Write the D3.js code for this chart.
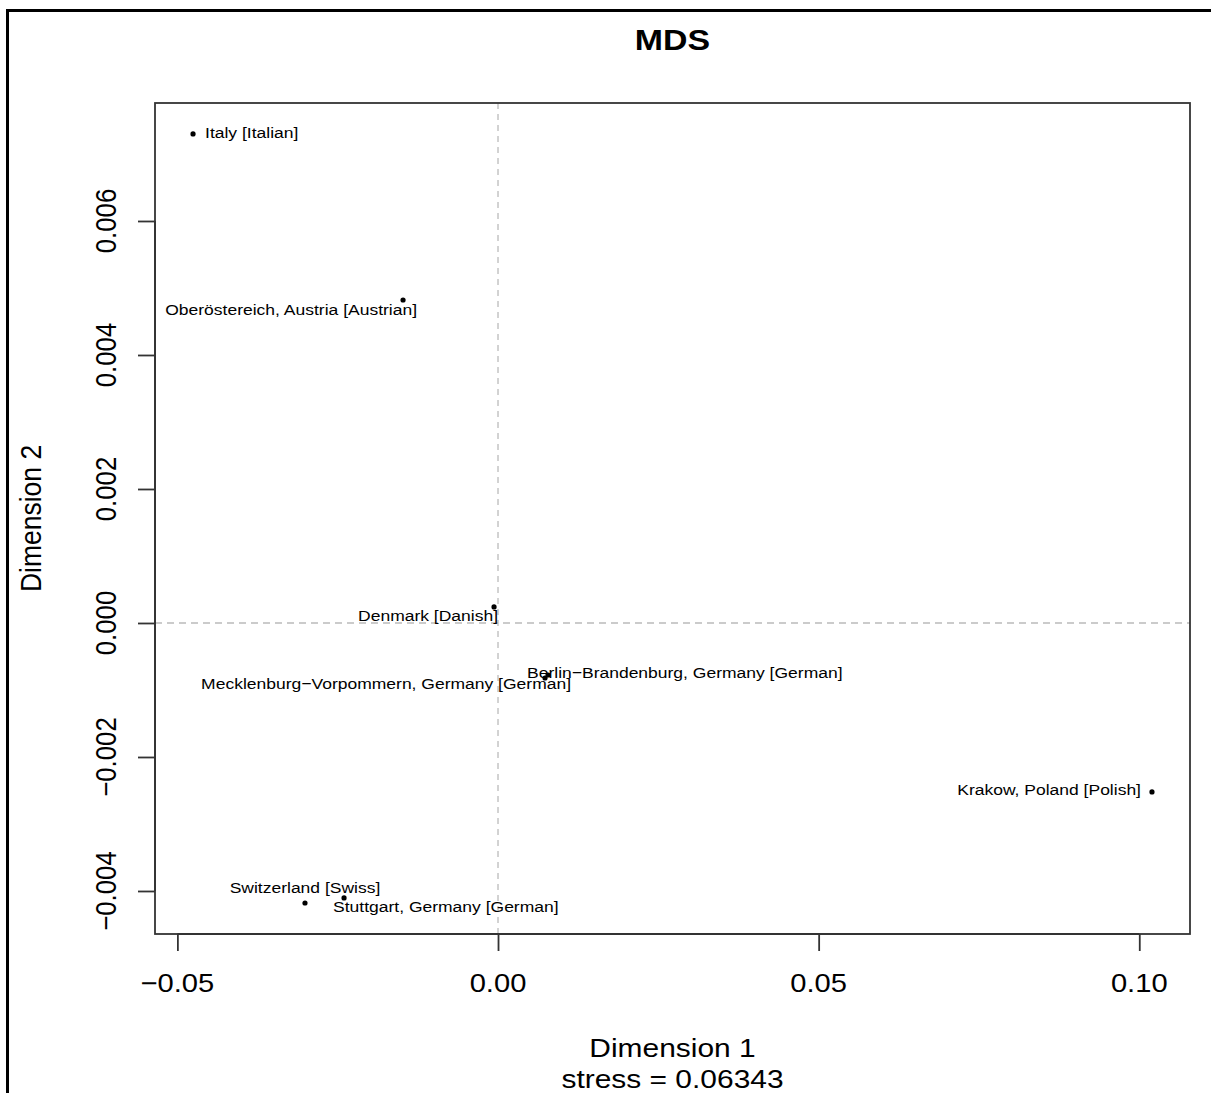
<!DOCTYPE html>
<html>
<head>
<meta charset="utf-8">
<script src="https://cdn.jsdelivr.net/npm/d3@7"></script>
<style>
  html, body { margin: 0; padding: 0; background: #fff; }
  svg { display: block; }
  text { font-family: "Liberation Sans", Arial, sans-serif; fill: #000; }
</style>
</head>
<body>
<script>
// MDS configuration: one entry per region / dialect
const regions = [
  "Italy [Italian]",
  "Oberöstereich, Austria [Austrian]",
  "Denmark [Danish]",
  "Mecklenburg\u2212Vorpommern, Germany [German]",
  "Berlin\u2212Brandenburg, Germany [German]",
  "Krakow, Poland [Polish]",
  "Switzerland [Swiss]",
  "Stuttgart, Germany [German]"
];
const dim1 = [-0.04756, -0.01481, -0.00062, 0.00733, 0.00780, 0.10198, -0.03010, -0.02401];
const dim2 = [0.007299, 0.004821, 0.000239, -0.000821, -0.000776, -0.002522, -0.004179, -0.004104];

const xTicks = [-0.05, 0.00, 0.05, 0.10];
const xTickLabels = ["\u22120.05", "0.00", "0.05", "0.10"];
const yTicks = [-0.004, -0.002, 0.000, 0.002, 0.004, 0.006];
const yTickLabels = ["\u22120.004", "\u22120.002", "0.000", "0.002", "0.004", "0.006"];

const stress = "0.06343";

// label placement relative to each point (anchor, pixel offsets)
const labelPlacement = [
  {anchor: "start",  dx: 12,  dy: -1},
  {anchor: "end",    dx: 14,  dy: 10},
  {anchor: "end",    dx: 4,   dy: 9},
  {anchor: "end",    dx: 26,  dy: 6},
  {anchor: "start",  dx: -21, dy: -2},
  {anchor: "end",    dx: -11, dy: -2},
  {anchor: "middle", dx: 0,   dy: -15},
  {anchor: "start",  dx: -11, dy: 9}
];

const W = 1211, H = 1093;
const box = {left: 155, right: 1190, top: 103, bottom: 934};
const SX = 1.13; // horizontal glyph stretch

const svg = d3.select("body").append("svg")
  .attr("width", W).attr("height", H);

// outer device frame
svg.append("rect")
  .attr("x", 7.5).attr("y", 10.5)
  .attr("width", 1300).attr("height", 1200)
  .attr("fill", "none").attr("stroke", "#000").attr("stroke-width", 3);

const x = d3.scaleLinear().domain([-0.05349, 0.10791]).range([box.left, box.right]);
const y = d3.scaleLinear().domain([-0.004642, 0.007761]).range([box.bottom, box.top]);

function stretchedText(sel, tx, ty, rot) {
  return sel.attr("transform", `translate(${tx},${ty}) scale(${SX},1)` + (rot ? ` rotate(${rot})` : ""));
}

// reference lines through the origin
svg.append("line")
  .attr("x1", x(0)).attr("x2", x(0)).attr("y1", box.top).attr("y2", box.bottom)
  .attr("stroke", "#bbb").attr("stroke-width", 1.3).attr("stroke-dasharray", "6,5");
svg.append("line")
  .attr("x1", box.left).attr("x2", box.right).attr("y1", y(0)).attr("y2", y(0))
  .attr("stroke", "#bbb").attr("stroke-width", 1.3).attr("stroke-dasharray", "7,5");

// plot box
svg.append("rect")
  .attr("x", box.left).attr("y", box.top)
  .attr("width", box.right - box.left).attr("height", box.bottom - box.top)
  .attr("fill", "none").attr("stroke", "#333").attr("stroke-width", 1.8);

// x axis
const xAxis = d3.axisBottom(x).tickValues(xTicks).tickSize(17).tickFormat("");
const gx = svg.append("g").attr("transform", `translate(0,${box.bottom})`).call(xAxis);
gx.select(".domain").attr("d", `M${x(xTicks[0])},0H${x(xTicks[xTicks.length - 1])}`)
  .attr("stroke", "#333").attr("stroke-width", 1.8);
gx.selectAll(".tick line").attr("stroke", "#333").attr("stroke-width", 1.8);
xTicks.forEach((t, i) => {
  stretchedText(svg.append("text"), x(t), 992)
    .attr("text-anchor", "middle").attr("font-size", 25.8).text(xTickLabels[i]);
});

// y axis
const yAxis = d3.axisLeft(y).tickValues(yTicks).tickSize(17).tickFormat("");
const gy = svg.append("g").attr("transform", `translate(${box.left},0)`).call(yAxis);
gy.select(".domain").attr("d", `M0,${y(yTicks[0])}V${y(yTicks[yTicks.length - 1])}`)
  .attr("stroke", "#333").attr("stroke-width", 1.8);
gy.selectAll(".tick line").attr("stroke", "#333").attr("stroke-width", 1.8);
yTicks.forEach((t, i) => {
  stretchedText(svg.append("text"), 116, y(t), -90)
    .attr("text-anchor", "middle").attr("font-size", 25.8).text(yTickLabels[i]);
});

// titles
stretchedText(svg.append("text"), (box.left + box.right) / 2, 50)
  .attr("text-anchor", "middle").attr("font-size", 30).attr("font-weight", "bold").text("MDS");
stretchedText(svg.append("text"), (box.left + box.right) / 2, 1057)
  .attr("text-anchor", "middle").attr("font-size", 26.5).text("Dimension 1");
stretchedText(svg.append("text"), (box.left + box.right) / 2, 1088)
  .attr("text-anchor", "middle").attr("font-size", 26.5).text("stress = " + stress);
stretchedText(svg.append("text"), 41, (box.top + box.bottom) / 2, -90)
  .attr("text-anchor", "middle").attr("font-size", 26.5).text("Dimension 2");

// points and labels
const pts = regions.map((r, i) => ({name: r, d1: dim1[i], d2: dim2[i], lp: labelPlacement[i]}));

svg.append("g").selectAll("circle").data(pts).join("circle")
  .attr("cx", d => x(d.d1)).attr("cy", d => y(d.d2))
  .attr("r", 2.6).attr("fill", "#000");

const lab = svg.append("g");
pts.forEach(d => {
  stretchedText(lab.append("text"), x(d.d1) + d.lp.dx, y(d.d2) + d.lp.dy)
    .attr("text-anchor", d.lp.anchor).attr("dy", "0.35em")
    .attr("font-size", 15.5).text(d.name);
});
</script>
</body>
</html>
